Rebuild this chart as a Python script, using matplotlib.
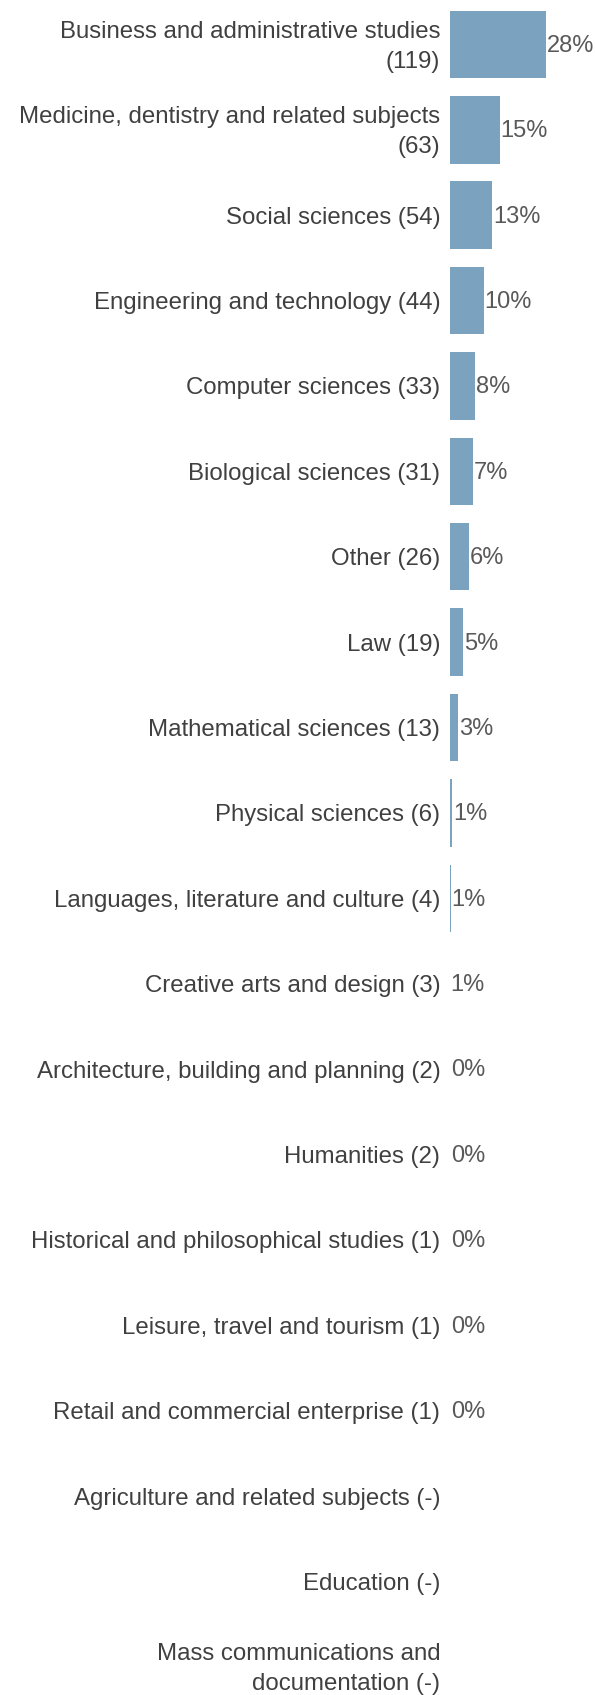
import matplotlib.pyplot as plt
from matplotlib.transforms import ScaledTranslation

# subjects and counts (top to bottom)
subjects = [
    "Business and administrative studies\n(119)",
    "Medicine, dentistry and related subjects\n(63)",
    "Social sciences (54)",
    "Engineering and technology (44)",
    "Computer sciences (33)",
    "Biological sciences (31)",
    "Other (26)",
    "Law (19)",
    "Mathematical sciences (13)",
    "Physical sciences (6)",
    "Languages, literature and culture (4)",
    "Creative arts and design (3)",
    "Architecture, building and planning (2)",
    "Humanities (2)",
    "Historical and philosophical studies (1)",
    "Leisure, travel and tourism (1)",
    "Retail and commercial enterprise (1)",
    "Agriculture and related subjects (-)",
    "Education (-)",
    "Mass communications and\ndocumentation (-)",
]
counts = [119, 63, 54, 44, 33, 31, 26, 19, 13, 6, 4, 3, 2, 2, 1, 1, 1, 0, 0, 0]
pct_labels = ["28%", "15%", "13%", "10%", "8%", "7%", "6%", "5%", "3%", "1%",
              "1%", "1%", "0%", "0%", "0%", "0%", "0%", "", "", ""]

plt.rcParams["font.family"] = ["Liberation Sans", "DejaVu Sans"]

fig = plt.figure(figsize=(5.95, 16.95), dpi=100)
ax = fig.add_axes([450 / 595, 0, 145 / 595, 1])

y = list(range(len(subjects)))
ax.barh(y, counts, height=0.79, color="#7ba3c0")

# percentage labels just right of each bar
for yi, c, lab in zip(y, counts, pct_labels):
    if lab:
        ax.annotate(lab, xy=(max(c, 3), yi), xytext=(0.5, -1), textcoords="offset points",
                    ha="left", va="center", fontsize=17, color="#595959")

ax.set_xlim(3, 178)
ax.set_ylim(19.33, -0.52)
ax.set_yticks(y)
ax.set_yticklabels(subjects, fontsize=17.3, color="#404040", linespacing=1.45)
ax.tick_params(axis="y", length=0, pad=7)
ax.set_xticks([])
for s in ax.spines.values():
    s.set_visible(False)

# two-line labels sit a bit higher in the original
for t in ax.get_yticklabels():
    if "\n" in t.get_text():
        t.set_transform(t.get_transform() + ScaledTranslation(0, 4 / 100, fig.dpi_scale_trans))

plt.savefig("out.png", dpi=100)
